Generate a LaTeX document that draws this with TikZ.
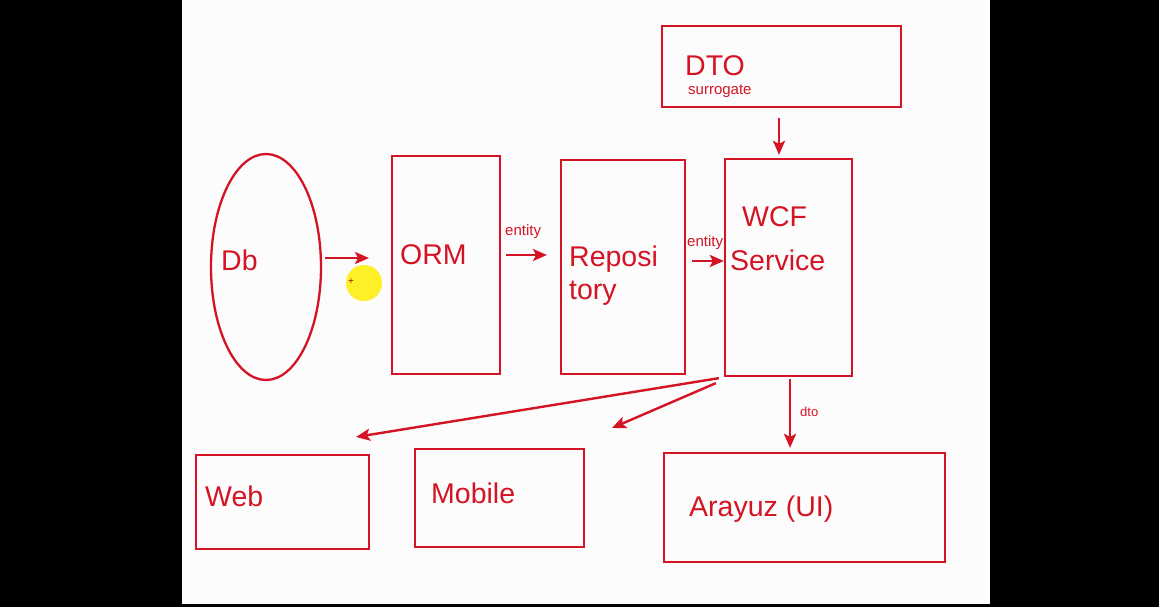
\documentclass[tikz,border=0pt]{standalone}
\usepackage{fontspec}
\setmainfont{Liberation Sans}
\usetikzlibrary{shapes.geometric,arrows.meta}
\definecolor{penred}{RGB}{212,20,36}
\tikzset{
  box/.style={draw=penred, line width=2.3pt, inner sep=0pt},
  big/.style={text=penred, font=\fontsize{28.5}{33}\selectfont, anchor=mid west, inner sep=0pt},
  small/.style={text=penred, font=\fontsize{15}{18}\selectfont, anchor=mid west, inner sep=0pt},
  arr/.style={draw=penred, line width=2.4pt, -{Stealth[length=14pt,width=12pt,inset=3pt]}}
}
\begin{document}
\begin{tikzpicture}[x=1pt,y=-1pt]
    % Background: black bars and white page
    \fill[black] (0,0) rectangle (1159,607);
    \fill[white!98!gray] (182,0) rectangle (990,604);
    \useasboundingbox (0,0) rectangle (1159,607);

    % Boxes
    \node[box, minimum width=239pt, minimum height=81pt] (dto) at (781.5,66.5) {};
    \node[box, ellipse, minimum width=110pt, minimum height=226pt] (db) at (266,267) {};
    \node[box, minimum width=108pt, minimum height=218pt] (orm) at (446,265) {};
    \node[box, minimum width=124pt, minimum height=214pt] (repo) at (623,267) {};
    \node[box, minimum width=127pt, minimum height=217pt] (wcf) at (788.5,267.5) {};
    \node[box, minimum width=173pt, minimum height=94pt] (web) at (282.5,502) {};
    \node[box, minimum width=169pt, minimum height=98pt] (mobile) at (499.5,498) {};
    \node[box, minimum width=281pt, minimum height=109pt] (ui) at (804.5,507.5) {};

    % Labels
    \node[big] (dtotxt) at (685,73) {DTO};
    \node[small] (surtxt) at (688,92) {surrogate};
    \node[big] (dbtxt) at (221,268) {Db};
    \node[big] (ormtxt) at (400,262) {ORM};
    \node[big] (repotxt) at (569,264) {Reposi};
    \node[big] (torytxt) at (569,297) {tory};
    \node[big] (wcftxt) at (742,224) {WCF};
    \node[big] (servtxt) at (730,268) {Service};
    \node[big] (webtxt) at (205,504) {Web};
    \node[big] (mobtxt) at (431,501) {Mobile};
    \node[big] (uitxt) at (689,514) {Arayuz (UI)};
    \node[small] (ent1) at (505,233) {entity};
    \node[small] (ent2) at (687,244) {entity};
    \node[small, font=\fontsize{13}{16}\selectfont] (dtolbl) at (800,414) {dto};

    % Arrow ends
    \coordinate (dbout) at (325,258);
    \coordinate (ormin) at (369,258);
    \coordinate (ormout) at (506,255);
    \coordinate (repoin) at (547,255);
    \coordinate (repoout) at (692,261);
    \coordinate (dtoout) at (779,118);
    \coordinate (wcfout) at (790,379);
    \coordinate (webin) at (356,437);
    \coordinate (mobin) at (612,428);

    % Arrows
    \draw[arr] (dbout) -- (ormin);
    \draw[arr] (ormout) -- (repoin);
    \draw[arr] (repoout) -- (repoout -| wcf.west);
    \draw[arr] (dtoout) -- ([yshift=3pt]dtoout |- wcf.north);
    \draw[arr] ([xshift=-5pt,yshift=-1pt]wcf.south west) -- (webin);
    \draw[arr] ([xshift=-8pt,yshift=-6pt]wcf.south west) -- (mobin);
    \draw[arr] (wcfout) -- ([yshift=4pt]wcfout |- ui.north);

    % Cursor mark
    \fill[yellow!95!orange, opacity=0.85] (364,283) circle (18pt);
    \node[text=penred!70!black, font=\fontsize{10}{12}\selectfont, inner sep=0pt] (cursor) at (351,282) {+};
\end{tikzpicture}
\end{document}
